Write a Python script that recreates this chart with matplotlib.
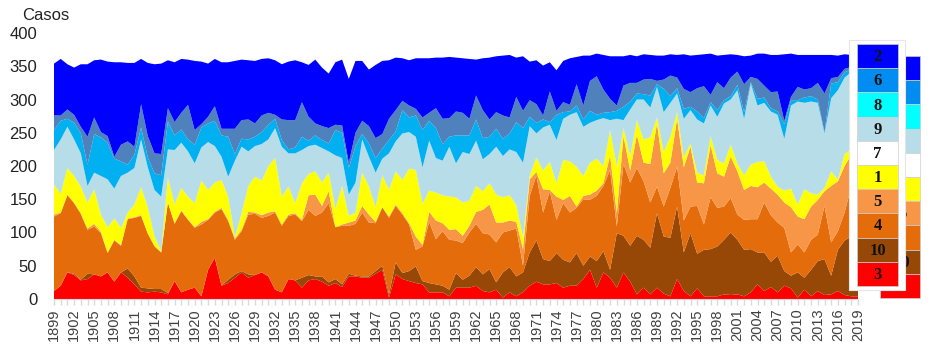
import numpy as np
import matplotlib.pyplot as plt
from matplotlib.patches import Rectangle

plt.rcParams['font.family'] = ['Liberation Sans', 'DejaVu Sans']

years = np.arange(1899, 2020)

# cases per year and class, stacked from the bottom up
s3 = [12, 20, 40, 36, 28, 30, 37, 34, 40, 26,
      40, 32, 22, 11, 10, 11, 10, 7, 27, 10,
      14, 17, 4, 44, 62, 20, 24, 32, 40, 32,
      36, 40, 34, 14, 10, 30, 28, 17, 28, 30,
      26, 20, 24, 18, 34, 34, 32, 32, 38, 44,
      2, 37, 30, 27, 24, 22, 10, 10, 10, 4,
      17, 17, 17, 20, 12, 10, 14, 2, 10, 4,
      10, 20, 26, 22, 22, 24, 17, 20, 20, 30,
      44, 17, 40, 32, 17, 40, 26, 7, 17, 7,
      17, 8, 4, 30, 12, 4, 16, 4, 4, 4,
      7, 6, 7, 4, 10, 22, 12, 18, 10, 20,
      16, 2, 14, 4, 12, 6, 7, 12, 6, 4, 4]
s10 = [0, 0, 0, 2, 1, 8, 0, 0, 0, 0,
       0, 14, 12, 6, 6, 4, 5, 2, 0, 0,
       0, 0, 0, 0, 0, 0, 5, 5, 2, 5,
       0, 0, 0, 0, 0, 0, 0, 15, 8, 4,
       8, 5, 6, 4, 4, 1, 2, 2, 4, 6,
       5, 18, 9, 15, 25, 5, 14, 12, 10, 10,
       22, 12, 18, 28, 25, 35, 11, 38, 38, 30,
       30, 50, 62, 38, 35, 45, 42, 35, 49, 20,
       20, 40, 32, 12, 82, 55, 54, 88, 72, 70,
       112, 86, 88, 109, 58, 95, 52, 70, 71, 75,
       82, 94, 82, 70, 65, 48, 58, 38, 55, 22,
       19, 38, 18, 40, 45, 54, 28, 62, 82, 90, 95]
s4 = [112, 109, 116, 106, 99, 66, 72, 65, 29, 62,
      40, 74, 88, 108, 82, 64, 55, 136, 86, 122,
      105, 90, 108, 75, 68, 115, 88, 52, 60, 90,
      92, 82, 91, 116, 100, 95, 99, 85, 98, 91,
      96, 119, 78, 88, 72, 78, 96, 81, 72, 88,
      115, 85, 88, 70, 25, 52, 92, 68, 82, 75,
      49, 55, 65, 65, 62, 52, 60, 60, 55, 72,
      10, 85, 98, 70, 105, 50, 85, 75, 68, 100,
      85, 98, 98, 150, 10, 108, 95, 102, 88, 68,
      40, 45, 75, 60, 48, 40, 72, 38, 78, 58,
      50, 52, 38, 45, 45, 50, 75, 70, 50, 65,
      35, 42, 38, 45, 40, 80, 50, 28, 42, 75, 80]
s5 = [3, 1, 1, 1, 1, 2, 4, 2, 1, 1,
      1, 1, 1, 1, 1, 1, 0, 0, 1, 1,
      1, 1, 4, 1, 1, 2, 2, 2, 2, 4,
      2, 4, 5, 2, 2, 2, 2, 2, 22, 32,
      10, 18, 0, 2, 5, 5, 10, 12, 2, 0,
      2, 2, 2, 2, 20, 2, 15, 28, 12, 15,
      17, 11, 10, 18, 35, 45, 30, 15, 15, 10,
      25, 25, 5, 35, 2, 35, 5, 25, 2, 5,
      8, 8, 4, 22, 20, 42, 18, 50, 28, 58,
      95, 50, 38, 72, 80, 90, 35, 62, 78, 52,
      45, 62, 65, 45, 50, 48, 30, 40, 42, 38,
      68, 42, 50, 50, 52, 22, 85, 75, 70, 48, 42]
s1 = [45, 28, 40, 40, 40, 39, 52, 26, 38, 32,
      26, 9, 19, 42, 39, 14, 2, 38, 28, 34,
      34, 36, 62, 44, 44, 42, 35, 2, 25, 39,
      54, 52, 70, 80, 42, 42, 15, 55, 32, 35,
      35, 28, 28, 58, 10, 12, 50, 42, 22, 48,
      40, 50, 50, 82, 100, 62, 32, 42, 42, 50,
      48, 50, 38, 39, 28, 32, 42, 38, 38, 25,
      18, 5, 22, 28, 42, 20, 60, 52, 60, 30,
      48, 48, 26, 38, 70, 12, 22, 22, 35, 40,
      9, 32, 39, 10, 15, 5, 15, 12, 14, 20,
      20, 18, 12, 22, 32, 38, 32, 18, 12, 18,
      28, 18, 45, 20, 8, 5, 22, 2, 18, 8, 8]
s7 = [0, 0, 0, 0, 0, 0, 0, 0, 0, 0, 0, 0, 0, 0, 0, 0, 0, 0, 0, 0,
      0, 0, 0, 0, 0, 0, 0, 0, 0, 0, 0, 0, 0, 0, 0, 0, 0, 0, 0, 0,
      0, 0, 0, 0, 0, 0, 0, 0, 0, 0, 0, 0, 0, 0, 0, 0, 0, 0, 0, 0,
      0, 0, 0, 0, 0, 0, 0, 0, 0, 0, 0, 0, 0, 0, 0, 0, 0, 0, 0, 0,
      0, 0, 0, 0, 0, 0, 0, 0, 0, 0, 0, 0, 0, 0, 0, 0, 0, 0, 0, 0,
      0, 0, 0, 0, 0, 0, 0, 0, 0, 0, 0, 0, 0, 0, 0, 0, 0, 0, 0, 0, 0]
s9 = [52, 82, 62, 55, 50, 25, 25, 58, 72, 45,
      78, 60, 55, 72, 60, 70, 82, 42, 82, 68,
      68, 60, 50, 72, 55, 35, 30, 115, 100, 52,
      46, 55, 40, 45, 75, 50, 75, 50, 42, 40,
      52, 32, 80, 42, 32, 45, 50, 45, 52, 25,
      55, 45, 70, 55, 50, 55, 75, 52, 52, 75,
      51, 76, 70, 68, 48, 44, 72, 62, 69, 80,
      112, 75, 36, 65, 56, 65, 62, 70, 82, 74,
      60, 58, 72, 15, 72, 12, 70, 31, 60, 45,
      46, 60, 51, 28, 58, 50, 80, 78, 46, 65,
      90, 68, 110, 85, 122, 85, 88, 98, 108, 78,
      125, 155, 130, 138, 138, 82, 110, 135, 115, 116, 112]
s8 = [30, 28, 12, 25, 30, 32, 58, 58, 55, 45,
      22, 12, 20, 18, 15, 25, 32, 42, 22, 20,
      18, 28, 30, 28, 38, 32, 60, 10, 12, 18,
      14, 18, 22, 14, 10, 6, 9, 20, 8, 14,
      12, 12, 38, 38, 40, 55, 8, 20, 22, 15,
      20, 15, 35, 22, 32, 56, 30, 45, 25, 15,
      42, 25, 28, 32, 32, 26, 27, 26, 24, 45,
      52, 14, 16, 12, 4, 38, 10, 5, 10, 11,
      18, 8, 8, 12, 12, 20, 12, 9, 8, 18,
      4, 35, 10, 8, 15, 5, 12, 8, 5, 10,
      5, 5, 8, 10, 2, 10, 8, 5, 5, 22,
      8, 2, 8, 8, 5, 2, 22, 12, 8, 4, 5]
s6 = [22, 8, 14, 12, 10, 42, 25, 8, 10, 3,
      25, 35, 12, 35, 32, 30, 32, 20, 20, 25,
      52, 22, 5, 10, 22, 10, 12, 38, 28, 30,
      20, 25, 18, 6, 31, 44, 41, 52, 36, 18,
      21, 23, 8, 11, 8, 20, 20, 26, 30, 22,
      32, 32, 14, 18, 10, 19, 12, 30, 38, 28,
      36, 34, 25, 36, 42, 26, 25, 35, 24, 38,
      26, 25, 28, 6, 46, 6, 15, 10, 32, 21,
      45, 58, 35, 20, 8, 32, 28, 16, 22, 25,
      5, 14, 31, 16, 30, 22, 35, 48, 11, 42,
      18, 28, 20, 42, 8, 30, 18, 24, 30, 5,
      5, 20, 12, 12, 25, 58, 8, 8, 5, 4, 5]
s2 = [78, 85, 68, 71, 94, 109, 86, 109, 112, 142,
      124, 118, 126, 68, 110, 134, 136, 72, 90, 81,
      68, 104, 94, 80, 71, 100, 100, 102, 91, 89,
      94, 85, 82, 82, 83, 88, 90, 60, 78, 96,
      88, 82, 94, 99, 126, 108, 90, 85, 110, 110,
      88, 79, 64, 68, 76, 89, 82, 76, 92, 92,
      81, 82, 90, 54, 78, 93, 84, 90, 94, 59,
      82, 58, 66, 75, 44, 61, 62, 70, 41, 75,
      38, 34, 52, 64, 74, 44, 42, 40, 38, 36,
      38, 36, 32, 34, 52, 55, 50, 48, 62, 40,
      50, 35, 25, 42, 32, 38, 48, 56, 55, 100,
      65, 48, 52, 50, 42, 58, 35, 32, 22, 18, 15]

area_colors = ['#ff0000', '#974806', '#e46c0a', '#f79646', '#ffff00',
               '#ffffff', '#b7dee8', '#00b0f0', '#4f81bd', '#0000ff']

# legend entries, top to bottom
leg_labels = ['2', '6', '8', '9', '7', '1', '5', '4', '10', '3']
leg_colors = ['#0000ff', '#008cf0', '#00ffff', '#b7dee8', '#ffffff',
              '#ffff00', '#f79646', '#e46c0a', '#974806', '#ff0000']

fig = plt.figure(figsize=(9.33, 3.5), dpi=100)
ax = fig.add_axes([54 / 933, 1 - 299 / 350, 804 / 933, 266 / 350])

ax.stackplot(years, s3, s10, s4, s5, s1, s7, s9, s8, s6, s2,
             colors=area_colors, linewidth=0)

ax.set_xlim(1899, 2019)
ax.set_ylim(0, 400)
ax.set_yticks(range(0, 401, 50))
ax.set_xticks(years[::3])
ax.set_xticklabels([str(y) for y in years[::3]], rotation=90)
ax.set_xticks(years, minor=True)

for side in ['top', 'right', 'left']:
    ax.spines[side].set_visible(False)
ax.spines['bottom'].set_color('#d9d9d9')

ax.tick_params(axis='x', which='both', length=4, width=1, color='#d9d9d9',
               labelsize=10.5, labelcolor='#404040', pad=3)
ax.tick_params(axis='y', length=0, labelsize=12, labelcolor='#222222', pad=12)

fig.text(22 / 933, 1 - 20 / 350, 'Casos', fontsize=12, color='#222222',
         va='baseline', ha='left')

# overlay in pixel units for the legend boxes
ov = fig.add_axes([0, 0, 1, 1], zorder=5)
ov.set_xlim(0, 933)
ov.set_ylim(350, 0)
ov.axis('off')


def draw_key(x0, y0, w, h, tx, z):
    for k, (lab, col) in enumerate(zip(leg_labels, leg_colors)):
        ov.add_patch(Rectangle((x0, y0 + k * h), w, h, facecolor=col,
                               edgecolor='#cfcfcf', linewidth=0.5, zorder=z))
        ov.text(tx, y0 + k * h + h / 2 + 1, lab, ha='center', va='center',
                fontsize=12, fontweight='bold', color='#111111', zorder=z + 1,
                family=['Liberation Serif', 'DejaVu Serif'])


# copy sitting behind, mostly hidden by the front one
draw_key(880, 56, 40, 24.2, 902, 1)
ov.add_patch(Rectangle((849, 40), 56, 250, facecolor='white',
                       edgecolor='#e6e6e6', linewidth=0.8, zorder=3))
draw_key(857, 44, 41, 24.2, 877.5, 4)

fig.savefig('out.png', dpi=100)
